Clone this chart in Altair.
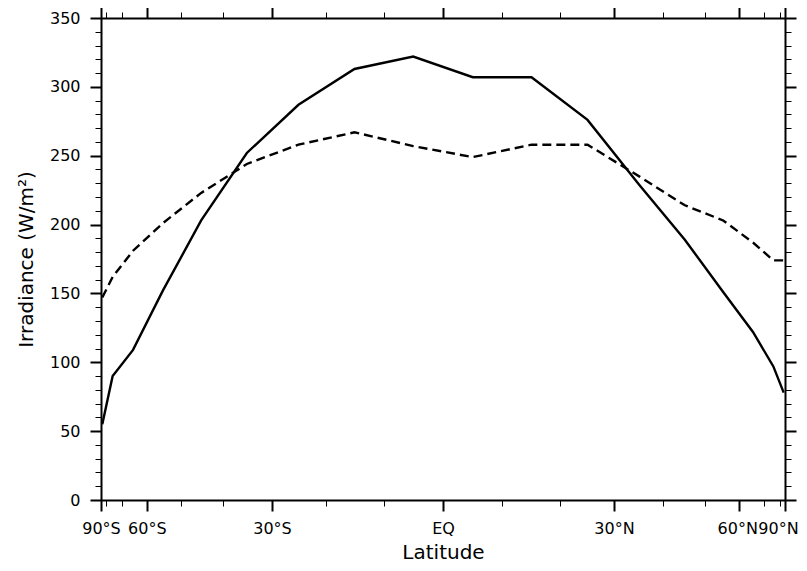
import altair as alt
import pandas as pd
import numpy as np

# Latitude band centres (degrees)
lat = [-85, -75, -65, -55, -45, -35, -25, -15, -5, 5, 15, 25, 35, 45, 55, 65, 75, 85]
# solid curve (W/m^2)
solid_vals = [55, 90, 109, 152, 203, 252, 287, 313, 322, 307, 307, 276, 229, 189, 151, 122, 97, 78]
# dashed curve (W/m^2)
dashed_vals = [147, 162, 181, 201, 223, 244, 258, 267, 257, 249, 258, 258, 235, 214, 203, 187, 174, 174]

x_major_deg = [-90, -60, -30, 0, 30, 60, 90]
x_minor_deg = [d for d in range(-90, 91, 10) if d % 30 != 0]
y_major = list(range(0, 351, 50))
y_minor = [v for v in range(0, 351, 10) if v % 50 != 0]

xmaj = [float(np.sin(np.radians(d))) for d in x_major_deg]
xmin = [float(np.sin(np.radians(d))) for d in x_minor_deg]

df = pd.DataFrame({"lat": lat, "solid": solid_vals, "dashed": dashed_vals})

FONT = "DejaVu Sans"
lab_expr = ("round(asin(datum.value)*180/PI) == 0 ? 'EQ' : "
            "abs(round(asin(datum.value)*180/PI)) + '°' + (datum.value < 0 ? 'S' : 'N')")

xs = alt.Scale(domain=[-1, 1], nice=False, zero=False)
ys = alt.Scale(domain=[0, 350], nice=False, zero=True)

common = dict(tickColor="black", domainColor="black", labelColor="black",
              titleColor="black", grid=False, labelFont=FONT, titleFont=FONT,
              titleFontWeight="normal", labelFlush=False)

base = alt.Chart(df).transform_calculate(sx="sin(datum.lat*PI/180)")

solid = base.mark_line(color="black", strokeWidth=2.4).encode(
    x=alt.X("sx:Q", scale=xs, title="Latitude",
            axis=alt.Axis(orient="bottom", values=xmaj, tickSize=11, tickWidth=2,
                          labelExpr=lab_expr, labelFontSize=16, labelPadding=9,
                          labelOverlap=False,
                          labelOffset={"expr": "datum.value > 0.99 ? -7 : (datum.value > 0.8 ? -2 : 0)"},
                          titleFontSize=20, titleY=58, titleBaseline="alphabetic",
                          domain=True, domainWidth=2, **common)),
    y=alt.Y("solid:Q", scale=ys, title="Irradiance (W/m²)",
            axis=alt.Axis(orient="left", values=y_major, tickSize=11, tickWidth=2,
                          labelFontSize=16, labelPadding=10, labelOverlap=False,
                          titleFontSize=20, titleX=-69, titleBaseline="alphabetic",
                          domain=True, domainWidth=2, **common)),
)

dashed = base.mark_line(color="black", strokeWidth=2.4, strokeDash=[9, 5]).encode(
    x=alt.X("sx:Q", scale=xs, title=None,
            axis=alt.Axis(orient="top", values=xmaj, tickSize=11, tickWidth=2,
                          labels=False, domain=True, domainWidth=2, **common)),
    y=alt.Y("dashed:Q", scale=ys, title=None,
            axis=alt.Axis(orient="right", values=y_major, tickSize=11, tickWidth=2,
                          labels=False, domain=True, domainWidth=2, **common)),
)

minor1 = base.mark_line(opacity=0).encode(
    x=alt.X("sx:Q", scale=xs, title=None,
            axis=alt.Axis(orient="bottom", values=xmin, tickSize=6, tickWidth=1,
                          labels=False, domain=False, **common)),
    y=alt.Y("solid:Q", scale=ys, title=None,
            axis=alt.Axis(orient="left", values=y_minor, tickSize=6, tickWidth=1,
                          labels=False, domain=False, **common)),
)

minor2 = base.mark_line(opacity=0).encode(
    x=alt.X("sx:Q", scale=xs, title=None,
            axis=alt.Axis(orient="top", values=xmin, tickSize=6, tickWidth=1,
                          labels=False, domain=False, **common)),
    y=alt.Y("solid:Q", scale=ys, title=None,
            axis=alt.Axis(orient="right", values=y_minor, tickSize=6, tickWidth=1,
                          labels=False, domain=False, **common)),
)

chart = alt.layer(solid, dashed, minor1, minor2).resolve_axis(
    x="independent", y="independent"
).properties(
    width=684, height=482,
    padding={"left": 93, "top": 10, "right": 14, "bottom": 63},
    autosize=alt.AutoSizeParams(type="none"),
    background="white",
).configure_view(strokeWidth=0)

chart.save("out.html", embed_options={"renderer": "svg", "actions": False})
